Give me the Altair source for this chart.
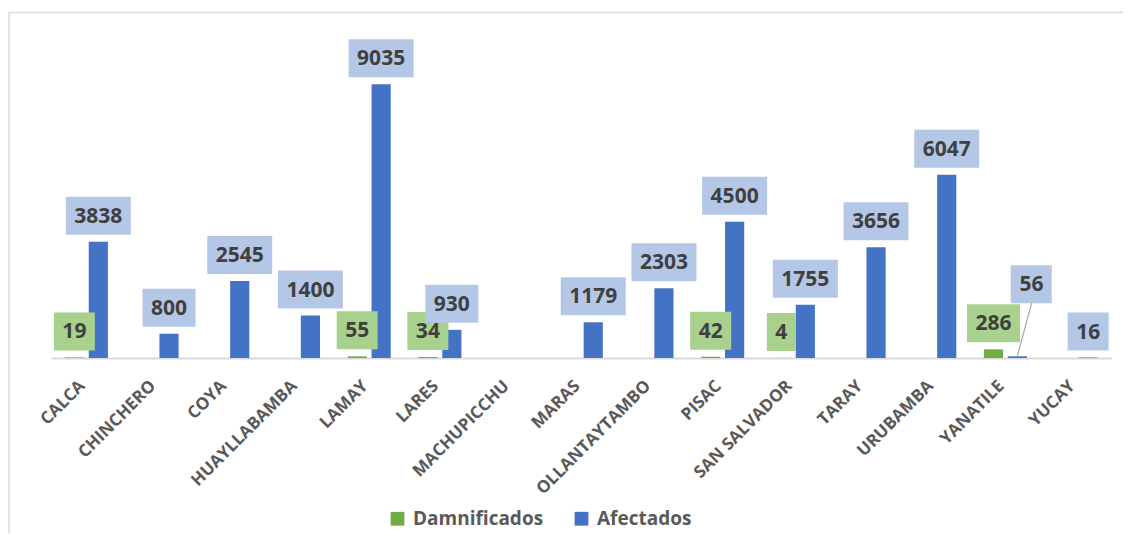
import altair as alt
import pandas as pd

categories = ["CALCA", "CHINCHERO", "COYA", "HUAYLLABAMBA", "LAMAY", "LARES",
              "MACHUPICCHU", "MARAS", "OLLANTAYTAMBO", "PISAC", "SAN SALVADOR",
              "TARAY", "URUBAMBA", "YANATILE", "YUCAY"]
damnificados = [19, None, None, None, 55, 34, None, None, None, 42, 4, None, None, 286, None]
afectados = [3838, 800, 2545, 1400, 9035, 930, None, 1179, 2303, 4500, 1755, 3656, 6047, 56, 16]
series_names = ["Damnificados", "Afectados"]
bar_colors = ["#70AD47", "#4472C4"]

rows = []
for c, d, a in zip(categories, damnificados, afectados):
    rows.append({"cat": c, "series": "Damnificados", "value": d})
    rows.append({"cat": c, "series": "Afectados", "value": a})
df = pd.DataFrame(rows).dropna()

moved = "datum.cat == 'YANATILE' && datum.series == 'Afectados'"

x = alt.X("cat:N", sort=categories,
          scale=alt.Scale(domain=categories, paddingInner=0.39, paddingOuter=0.195),
          axis=alt.Axis(title=None, labelAngle=-45, labelAlign="right", labelBaseline="middle",
                        labelOverlap=False, ticks=False, tickSize=0, labelPadding=25,
                        labelOffset=-4,
                        domainColor="#d9d9d9", domainWidth=2, labelFont="Open Sans",
                        labelFontWeight="bold", labelFontSize=17, labelColor="#595959"))
xo = alt.XOffset("series:N", sort=series_names,
                 scale=alt.Scale(domain=series_names, paddingInner=0.2, paddingOuter=0))
y = alt.Y("value:Q", stack=None, axis=None,
          scale=alt.Scale(domain=[0, 10000], nice=False, zero=True))

base = alt.Chart(df)

bars = base.mark_bar().encode(
    x=x, xOffset=xo, y=y,
    color=alt.Color("series:N",
                    scale=alt.Scale(domain=series_names, range=bar_colors),
                    legend=alt.Legend(title=None, orient="none", legendX=337, legendY=454,
                                      direction="horizontal", symbolType="square",
                                      symbolSize=190, symbolStrokeWidth=0,
                                      labelFont="Open Sans", labelFontWeight="bold",
                                      labelFontSize=19, labelColor="#595959",
                                      labelOffset=6, columnPadding=28)),
)

box_fill = alt.condition("datum.series == 'Damnificados'", alt.value("#A9D18E"), alt.value("#B4C7E7"))
box_w = "12*length(toString(datum.value))+17"
label_style = dict(font="Open Sans", fontWeight="bold", fontSize=21, color="#404040",
                   baseline="middle")

boxes = base.transform_filter("!(" + moved + ")").transform_calculate(w=box_w).mark_bar(
    yOffset=-7, y2Offset=-45).encode(
    x=x, xOffset=xo, y=y, y2=alt.Y2("value:Q"),
    size=alt.Size("w:Q", scale=None, legend=None), fill=box_fill)

texts = base.transform_filter("!(" + moved + ")").mark_text(
    dy=-25, **label_style).encode(x=x, xOffset=xo, y=y, text="value:Q")

# label of YANATILE / Afectados is pulled up and to the right, with a leader line
leader = base.transform_filter(moved).mark_rule(
    color="#a6a6a6", strokeWidth=1.2, xOffset=11.9, x2Offset=26.2, y2Offset=-53.5).encode(
    x=x, y=y, x2=alt.X2("cat:N"), y2=alt.Y2("value:Q"))

box_moved = base.transform_filter(moved).transform_calculate(w=box_w).mark_bar(
    xOffset=25.8, yOffset=-53, y2Offset=-91).encode(
    x=x, y=y, y2=alt.Y2("value:Q"),
    size=alt.Size("w:Q", scale=None, legend=None), fill=box_fill)

text_moved = base.transform_filter(moved).mark_text(
    dx=14, dy=-71, **label_style).encode(x=x, xOffset=xo, y=y, text="value:Q")

frame = alt.Chart(alt.Data(values=[{"k": 1}])).mark_rect(
    fillOpacity=0, stroke="#d9d9d9", strokeWidth=1.5).encode(
    x=alt.value(-42), x2=alt.value(1100), y=alt.value(-42.5), y2=alt.value(520))

chart = alt.layer(frame, bars, leader, boxes, texts, box_moved, text_moved).properties(
    width=1060.5, height=303,
    padding={"left": 43, "top": 47, "right": 11, "bottom": 175},
    autosize="none",
).configure_view(stroke=None)

chart.save("out.html", embed_options={"renderer": "svg", "actions": False})
